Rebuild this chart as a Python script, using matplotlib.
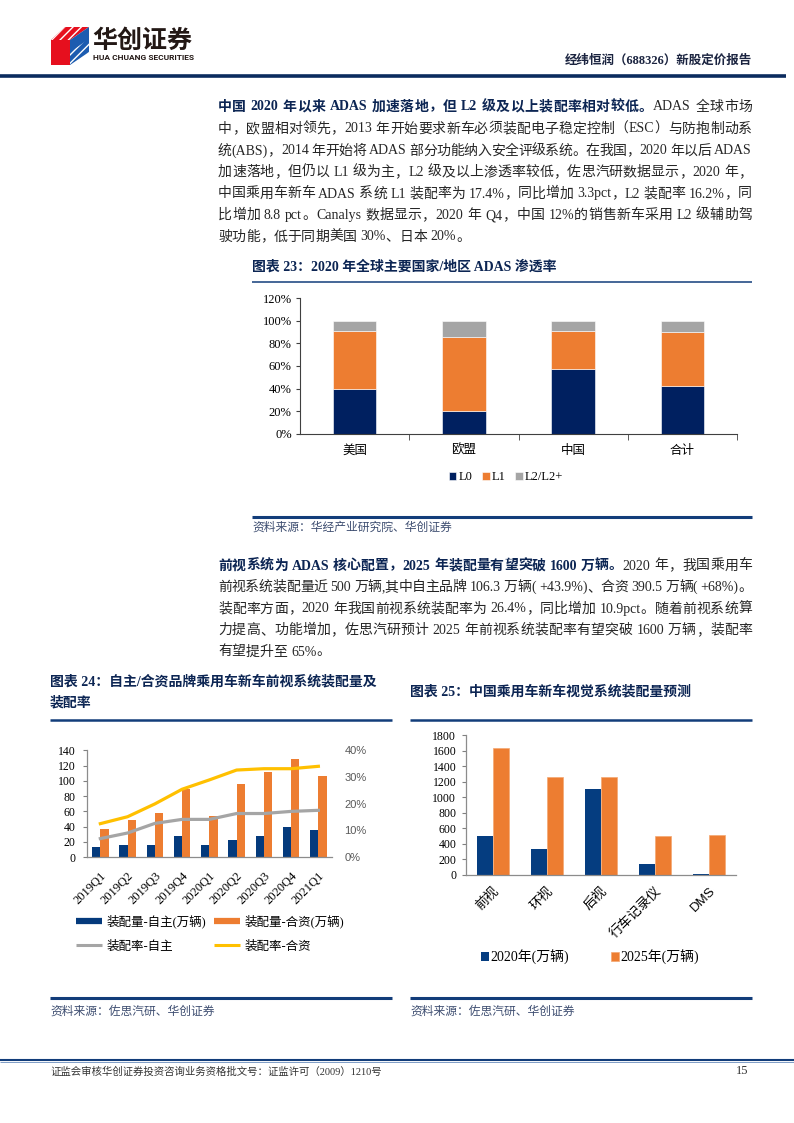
import matplotlib
matplotlib.use('Agg')
import matplotlib.pyplot as plt
from matplotlib.patches import Polygon, Patch
from matplotlib.lines import Line2D
import numpy as np

W, H = 794, 1123
CJK = 'Noto Sans CJK SC'
SERIF = ['Liberation Serif', CJK]
SANS = ['Liberation Sans', CJK]

NAVY_TXT = '#0c2553'
LINE_C = '#123d7a'
BODY_C = '#262626'
SRC_C = '#3d4d70'

# ---------------- data ----------------
c23_regions = ['美国', '欧盟', '中国', '合计']
c23_series = ['L0', 'L1', 'L2/L2+']
c23_L0 = [40, 20, 57, 42]
c23_L1 = [51, 66, 34, 48]
c23_L2 = [9, 14, 9, 10]
c23_yticks = [0, 20, 40, 60, 80, 100, 120]

c24_quarters = ['2019Q1', '2019Q2', '2019Q3', '2019Q4', '2020Q1',
                '2020Q2', '2020Q3', '2020Q4', '2021Q1']
c24_own_units = [13.1, 15.7, 16.2, 27.6, 15.3, 21.9, 27.1, 39.8, 35.0]
c24_jv_units = [36.3, 48.1, 57.3, 89.2, 53.8, 95.4, 111.5, 128.6, 106.3]
c24_own_rate = [6.9, 9.0, 12.6, 14.1, 14.1, 16.3, 16.3, 17.1, 17.5]
c24_jv_rate = [12.5, 15.1, 19.9, 25.4, 28.9, 32.6, 33.1, 33.1, 34.0]
c24_series = ['装配量-自主(万辆)', '装配率-自主', '装配量-合资(万辆)', '装配率-合资']
c24_yticks = [0, 20, 40, 60, 80, 100, 120, 140]
c24_rticks = [0, 10, 20, 30, 40]

c25_types = ['前视', '环视', '后视', '行车记录仪', 'DMS']
c25_2020 = [496, 335, 1100, 142, 15]
c25_2025 = [1630, 1254, 1254, 503, 507]
c25_series = ['2020年(万辆)', '2025年(万辆)']
c25_yticks = [0, 200, 400, 600, 800, 1000, 1200, 1400, 1600, 1800]

para1 = [
    [("中国 2020 年以来 ADAS 加速落地，但 L2 级及以上装配率相对较低。", 'bold'), ("ADAS 全球市场", 'body')],
    [("中，欧盟相对领先，2013 年开始要求新车必须装配电子稳定控制（ESC）与防抱制动系", 'body')],
    [("统(ABS)，2014 年开始将 ADAS 部分功能纳入安全评级系统。在我国，2020 年以后 ADAS", 'body')],
    [("加速落地，但仍以 L1 级为主，L2 级及以上渗透率较低，佐思汽研数据显示，2020 年，", 'body')],
    [("中国乘用车新车 ADAS 系统 L1 装配率为 17.4%，同比增加 3.3pct，L2 装配率 16.2%，同", 'body')],
    [("比增加 8.8 pct。Canalys 数据显示，2020 年 Q4，中国 12%的销售新车采用 L2 级辅助驾", 'body')],
    [("驶功能，低于同期美国 30%、日本 20%。", 'body')],
]
para2 = [
    [("前视系统为 ADAS 核心配置，2025 年装配量有望突破 1600 万辆。", 'bold'), ("2020 年，我国乘用车", 'body')],
    [("前视系统装配量近 500 万辆,其中自主品牌 106.3 万辆( +43.9%)、合资 390.5 万辆( +68%)。", 'body')],
    [("装配率方面，2020 年我国前视系统装配率为 26.4%，同比增加 10.9pct。随着前视系统算", 'body')],
    [("力提高、功能增加，佐思汽研预计 2025 年前视系统装配率有望突破 1600 万辆，装配率", 'body')],
    [("有望提升至 65%。", 'body')],
]

# ---------------- page ----------------
fig = plt.figure(figsize=(W / 100, H / 100), dpi=100)
bg = fig.add_axes([0, 0, 1, 1])
bg.set_xlim(0, W)
bg.set_ylim(H, 0)
bg.axis('off')
renderer = fig.canvas.get_renderer()


def rect(l, t, r, b):
    return [l / W, 1 - b / H, (r - l) / W, (b - t) / H]


def fx(x):
    return x / W


def fy(y):
    return 1 - y / H


STY = {
    'body': dict(fontsize=10, family=SERIF, color=BODY_C),
    'bold': dict(fontsize=10, family=SERIF, color=NAVY_TXT, weight='bold'),
}
_cache = {}


def _w(s, st):
    k = (s, st)
    if k not in _cache:
        t = bg.text(0, 0, s, **STY[st])
        _cache[k] = t.get_window_extent(renderer).width
        t.remove()
    return _cache[k]


def adv(tok, st):
    return _w('中' + tok + '中', st) - _w('中中', st)


def tokens(s):
    out, buf = [], ''
    for ch in s:
        if ch == ' ':
            if buf:
                out.append(buf)
                buf = ''
            out.append(' ')
        elif ord(ch) < 128:
            buf += ch
        else:
            if buf:
                out.append(buf)
                buf = ''
            out.append(ch)
    if buf:
        out.append(buf)
    return out


def draw_line(segs, y, x0=218, x1=752, justify=True):
    toks = []
    for text, st in segs:
        for tk in tokens(text):
            toks.append((tk, st))
    widths = [adv(tk, st) for tk, st in toks]
    total = sum(widths)
    n = len(toks)
    extra = (x1 - x0 - total) / (n - 1) if (justify and n > 1) else 0
    x = x0
    for (tk, st), w in zip(toks, widths):
        if tk != ' ':
            bg.text(x, y + 4.5, tk, ha='left', va='baseline', **STY[st])
        x += w + extra


def hline(x0, x1, y, lw, color=LINE_C):
    bg.plot([x0, x1], [y, y], color=color, lw=lw, solid_capstyle='butt')


# header logo
bg.add_patch(Polygon([(51, 40), (70, 40), (70, 65), (51, 65)], closed=True,
                     facecolor='#e60f1e', edgecolor='none'))
bg.add_patch(Polygon([(51, 40), (65, 27), (89, 27), (70, 40)], closed=True,
                     facecolor='#e60f1e', edgecolor='white', lw=0, hatch='////'))
bg.add_patch(Polygon([(70, 40), (89, 27), (89, 50), (70, 63)], closed=True,
                     facecolor='#1c5cb0', edgecolor='none'))
bg.add_patch(Polygon([(70, 52), (89, 39), (89, 52), (70, 65)], closed=True,
                     facecolor='#1c5cb0', edgecolor='white', lw=0, hatch='////'))
bg.text(92, 41, '华创证券', fontsize=18, weight='heavy', family=[CJK], color='#231815',
        ha='left', va='center')
bg.text(93, 58, 'HUA CHUANG SECURITIES', fontsize=6, weight='bold',
        family=['Roboto', 'DejaVu Sans'], color='#231815', ha='left', va='center')
bg.text(752, 61, '经纬恒润（688326）新股定价报告', fontsize=9, weight='bold', family=SERIF,
        color='#1b2440', ha='right', va='center')
hline(0, 786, 76, 2.6, '#0b2b5e')

# paragraphs
p1_y = [106, 128, 150, 171.5, 193, 214.5, 236]
for i, (segs, y) in enumerate(zip(para1, p1_y)):
    draw_line(segs, y, justify=(i < len(para1) - 1))
p2_y = [565, 586.5, 608, 629.5, 651]
for i, (segs, y) in enumerate(zip(para2, p2_y)):
    draw_line(segs, y, justify=(i < len(para2) - 1))

# titles / rules / sources
TITLE = dict(fontsize=10, weight='bold', family=SERIF, color=NAVY_TXT, ha='left', va='center')
SRC = dict(fontsize=8.5, family=SERIF, color=SRC_C, ha='left', va='center', style='italic')
bg.text(252, 267, '图表 23：2020 年全球主要国家/地区 ADAS 渗透率', **TITLE)
hline(252, 752, 282, 1.1)
hline(252, 752, 517, 2.2)
bg.text(252, 528, '资料来源：华经产业研究院、华创证券', **SRC)

bg.text(50, 682, '图表 24：自主/合资品牌乘用车新车前视系统装配量及', **TITLE)
bg.text(50, 703, '装配率', **TITLE)
hline(50, 392, 720, 1.8)
hline(50, 392, 998, 2.2)
bg.text(50, 1012, '资料来源：佐思汽研、华创证券', **SRC)

bg.text(410, 692, '图表 25：中国乘用车新车视觉系统装配量预测', **TITLE)
hline(410, 752, 720, 1.8)
hline(410, 752, 997.5, 2.2)
bg.text(410, 1012, '资料来源：佐思汽研、华创证券', **SRC)

# footer
hline(0, 794, 1059.5, 1.5, '#123d7a')
hline(0, 794, 1062.3, 0.7, '#7f9cc6')
bg.text(50, 1071.5, '证监会审核华创证券投资咨询业务资格批文号：证监许可（2009）1210号',
        fontsize=7.5, family=SERIF, color='#333333', ha='left', va='center')
bg.text(748, 1071.5, '15', fontsize=9, family=SERIF, color='#333333', ha='right', va='center')

# ---------------- chart 23 ----------------
ax23 = fig.add_axes(rect(300, 298, 737, 434))
x23 = np.arange(len(c23_regions))
b0 = np.array(c23_L0, dtype=float)
b1 = np.array(c23_L1, dtype=float)
b2 = np.array(c23_L2, dtype=float)
ax23.bar(x23, b0, 0.4, color='#002060', edgecolor='white', linewidth=0.4, label=c23_series[0])
ax23.bar(x23, b1, 0.4, bottom=b0, color='#ED7D31', edgecolor='white', linewidth=0.4,
         label=c23_series[1])
ax23.bar(x23, b2, 0.4, bottom=b0 + b1, color='#A5A5A5', edgecolor='white', linewidth=0.4,
         label=c23_series[2])
ax23.set_xlim(-0.5, 3.5)
ax23.set_ylim(0, 120)
ax23.set_yticks(c23_yticks)
ax23.set_yticklabels([f'{v}%' for v in c23_yticks], family=SERIF, fontsize=9)
ax23.set_xticks(x23)
ax23.set_xticklabels(c23_regions, family=[CJK], fontsize=9)
ax23.set_xticks(x23 + 0.5, minor=True)
ax23.tick_params(axis='x', which='major', length=0, pad=7)
ax23.tick_params(axis='x', which='minor', length=4, direction='out', color='#404040')
ax23.tick_params(axis='y', length=3, direction='out', pad=3, color='#404040')
for s in ['top', 'right']:
    ax23.spines[s].set_visible(False)
for s in ['left', 'bottom']:
    ax23.spines[s].set_color('#404040')
    ax23.spines[s].set_linewidth(0.8)
ax23.legend(loc='center', bbox_to_anchor=(fx(506), fy(477)), bbox_transform=fig.transFigure,
            ncol=3, frameon=False, handlelength=0.6, handleheight=0.6, handletextpad=0.15,
            columnspacing=0.8, borderpad=0, prop={'family': SERIF, 'size': 9})

# ---------------- chart 24 ----------------
ax24 = fig.add_axes(rect(86.7, 750.3, 332, 857))
x24 = np.arange(len(c24_quarters))
ax24.bar(x24 - 0.15, c24_own_units, 0.3, color='#043a7c')
ax24.bar(x24 + 0.15, c24_jv_units, 0.3, color='#ED7D31')
ax24.set_xlim(-0.5, len(c24_quarters) - 0.5)
ax24.set_ylim(0, 140)
ax24.set_yticks(c24_yticks)
ax24.set_yticklabels([str(v) for v in c24_yticks], family=SERIF, fontsize=8.5)
ax24.set_xticks(x24)
ax24.set_xticklabels(c24_quarters, family=SERIF, fontsize=9, rotation=45, ha='right',
                     rotation_mode='anchor')
ax24.tick_params(axis='x', length=0, pad=9)
ax24.tick_params(axis='y', length=3, direction='out', pad=5, color='#808080')
for s in ['top', 'right']:
    ax24.spines[s].set_visible(False)
for s in ['left', 'bottom']:
    ax24.spines[s].set_color('#8c8c8c')
    ax24.spines[s].set_linewidth(0.9)
ax24r = ax24.twinx()
ax24r.plot(x24, c24_own_rate, color='#A5A5A5', lw=2.3)
ax24r.plot(x24, c24_jv_rate, color='#FFC000', lw=2.3)
ax24r.set_ylim(0, 40)
ax24r.set_yticks(c24_rticks)
ax24r.set_yticklabels([f'{v}%' for v in c24_rticks], family=SANS, fontsize=8, color='#595959')
ax24r.tick_params(axis='y', length=0, pad=9)
for s in ['top', 'right', 'left', 'bottom']:
    ax24r.spines[s].set_visible(False)
h24 = [Line2D([], [], color='#043a7c', lw=4.5, solid_capstyle='butt'),
       Line2D([], [], color='#A5A5A5', lw=2.2, solid_capstyle='butt'),
       Line2D([], [], color='#ED7D31', lw=4.5, solid_capstyle='butt'),
       Line2D([], [], color='#FFC000', lw=2.2, solid_capstyle='butt')]
fig.legend(handles=h24, labels=c24_series, ncol=2, loc='upper left',
           bbox_to_anchor=(fx(76), fy(915)), frameon=False, handlelength=2.1,
           handletextpad=0.35, columnspacing=0.6, labelspacing=0.95, borderpad=0,
           borderaxespad=0, prop={'family': SERIF, 'size': 9})

# ---------------- chart 25 ----------------
ax25 = fig.add_axes(rect(466, 735, 736, 874.7))
x25 = np.arange(len(c25_types))
ax25.bar(x25 - 0.145, c25_2020, 0.29, color='#053d80', label=c25_series[0])
ax25.bar(x25 + 0.145, c25_2025, 0.29, color='#ED7D31', edgecolor='#f4a872', linewidth=0.5,
         label=c25_series[1])
ax25.set_xlim(-0.5, len(c25_types) - 0.5)
ax25.set_ylim(0, 1800)
ax25.set_yticks(c25_yticks)
ax25.set_yticklabels([str(v) for v in c25_yticks], family=SERIF, fontsize=8.5)
ax25.set_xticks(x25)
ax25.set_xticklabels(c25_types, family=SANS, fontsize=9.5, rotation=45, ha='right',
                     rotation_mode='anchor')
ax25.tick_params(axis='x', length=0, pad=7)
ax25.tick_params(axis='y', length=3, direction='out', pad=4, color='#808080')
for s in ['top', 'right']:
    ax25.spines[s].set_visible(False)
for s in ['left', 'bottom']:
    ax25.spines[s].set_color('#8c8c8c')
    ax25.spines[s].set_linewidth(0.9)
ax25.legend(loc='center', bbox_to_anchor=(fx(590), fy(957)), bbox_transform=fig.transFigure,
            ncol=2, frameon=False, handlelength=0.6, handleheight=0.6, handletextpad=0.1,
            columnspacing=3.0, borderpad=0, prop={'family': SERIF, 'size': 10})

fig.savefig('out.png', dpi=100)
